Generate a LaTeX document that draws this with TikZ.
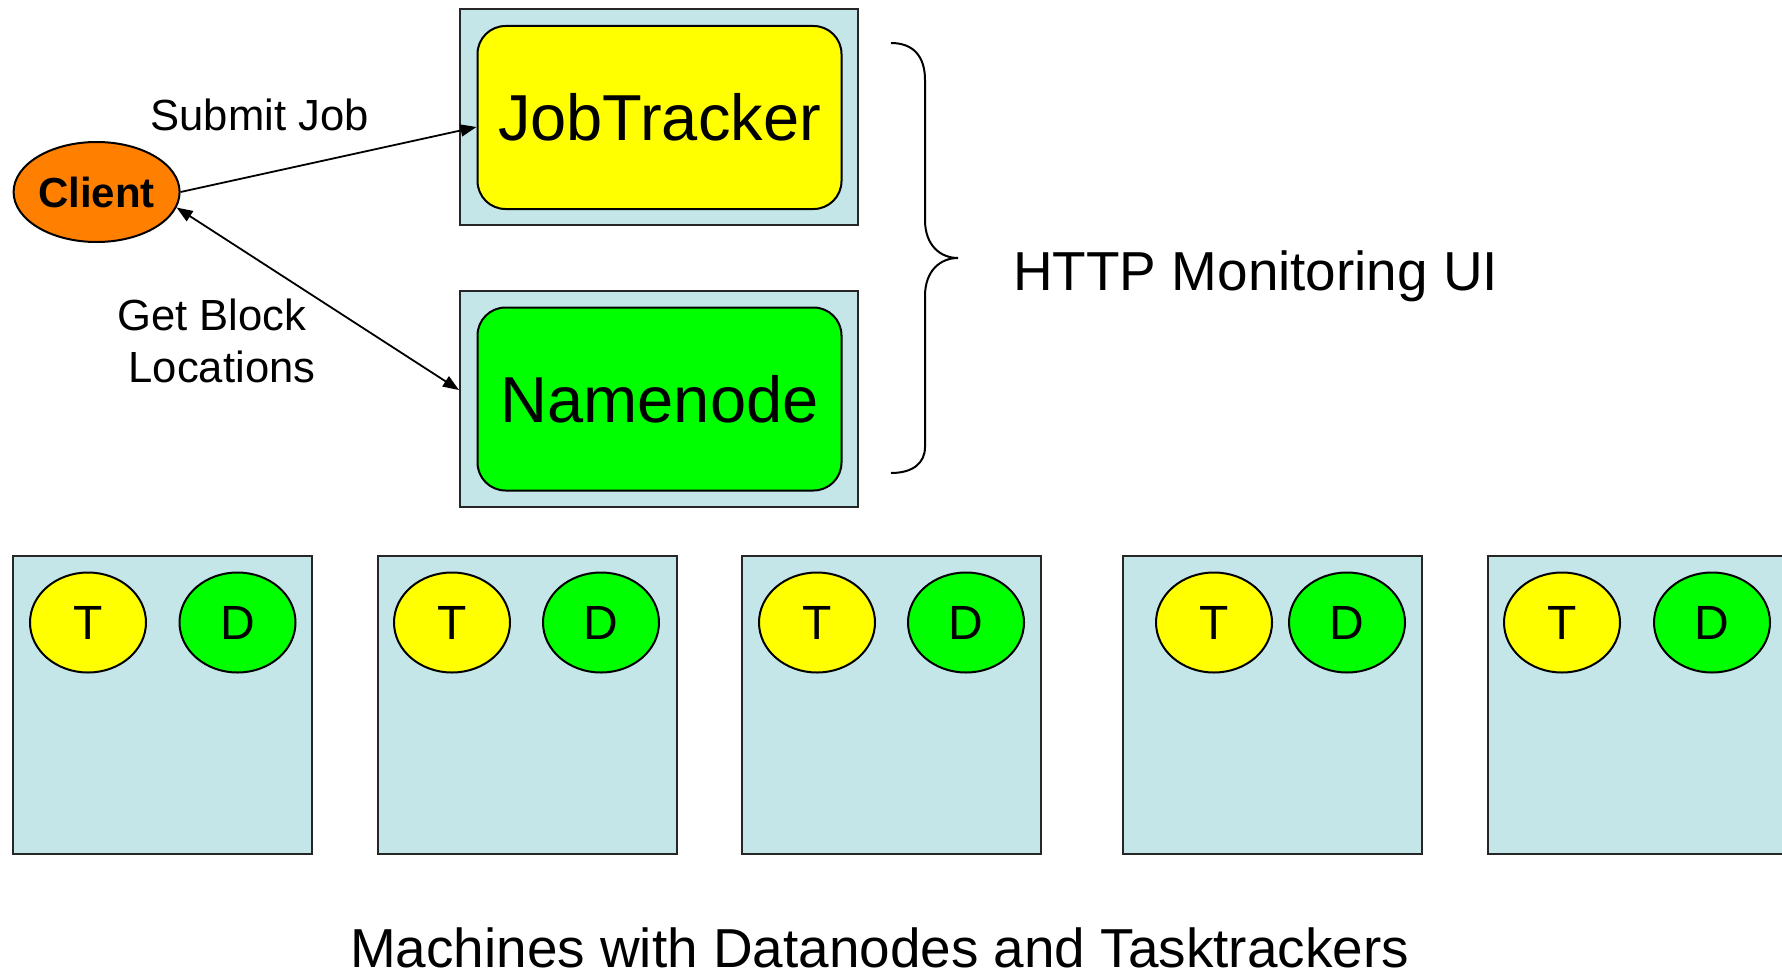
\documentclass[tikz,border=0pt]{standalone}
\usepackage{fontspec}
\setmainfont{Liberation Sans}
\usetikzlibrary{shapes.geometric,arrows.meta}
\definecolor{boxblue}{RGB}{196,230,232}
\definecolor{jtyellow}{RGB}{255,255,0}
\definecolor{nngreen}{RGB}{0,255,0}
\definecolor{clorange}{RGB}{255,128,0}
\begin{document}
\begin{tikzpicture}[x=1pt,y=-1pt,
  outerbox/.style={draw=black!85, line width=2pt, fill=boxblue, rectangle, inner sep=0pt},
  innerbox/.style={draw=black, line width=2pt, rounded corners=28pt, rectangle,
    minimum width=364pt, minimum height=183pt, inner sep=0pt, font=\fontsize{65}{78}\selectfont},
  machine/.style={outerbox, minimum width=299pt, minimum height=298pt},
  proc/.style={ellipse, draw=black, line width=2pt, inner sep=0pt,
    minimum width=116pt, minimum height=100pt, font=\fontsize{48}{58}\selectfont},
  tnode/.style={proc, fill=jtyellow},
  dnode/.style={proc, fill=nngreen},
  lbl/.style={font=\fontsize{43.6}{52}\selectfont, inner sep=0pt},
  big/.style={font=\fontsize{54.9}{66}\selectfont, inner sep=0pt},
  conn/.style={draw=black, line width=1.8pt},
  tip/.style={-{Triangle[length=16pt,width=12pt]}},
  dtip/.style={{Triangle[length=16pt,width=12pt]}-{Triangle[length=16pt,width=12pt]}}
]
\useasboundingbox (0,0) rectangle (1782,974);
\clip (0,0) rectangle (1782,974);

% top servers
\node[outerbox, minimum width=398pt, minimum height=216pt] (jtout) at (659,117) {};
\node[innerbox, fill=jtyellow] (jt) at (659.5,117.5) {JobTracker};
\node[outerbox, minimum width=398pt, minimum height=216pt] (nnout) at (659,399) {};
\node[innerbox, fill=nngreen] (nn) at (659.5,399) {Namenode};

% client
\node[ellipse, draw=black, line width=2pt, fill=clorange, inner sep=0pt,
  minimum width=166pt, minimum height=100pt,
  font=\fontsize{42}{50}\bfseries\selectfont] (client) at (96.6,192) {Client};

% connectors
\draw[conn, tip] (client.east) -- ([yshift=-9.5pt]jt.west);
\draw[conn, dtip] (client.-11) -- ([yshift=9pt]nnout.west);

% labels
\node[lbl, anchor=base] (submit) at (259.5,130) {Submit Job};
\node[lbl, anchor=base, align=center] (getblock) at (222,382) {Get Block\hspace*{20pt}\\Locations};

% brace
\draw[line width=2pt] (891,43) .. controls (913,43) and (925,56) .. (925,80)
  -- (925,220) .. controls (925,245) and (940,258) .. (958,258)
  .. controls (940,258) and (925,271) .. (925,296)
  -- (925,447) .. controls (925,463) and (913,473) .. (891,473);
\node[big, anchor=base west] (http) at (1013,290) {HTTP Monitoring UI};

% machines
\node[machine] (m1) at (162.5,705) {};
\node[machine] (m2) at (527,705) {};
\node[machine] (m3) at (891.5,705) {};
\node[machine] (m4) at (1272.5,705) {};
\node[machine] (m5) at (1637.5,705) {};

\node[tnode] (t1) at (88,622.5) {T};
\node[dnode] (d1) at (237.5,622.5) {D};
\node[tnode] (t2) at (452,622.5) {T};
\node[dnode] (d2) at (601,622.5) {D};
\node[tnode] (t3) at (817,622.5) {T};
\node[dnode] (d3) at (966,622.5) {D};
\node[tnode] (t4) at (1214,622.5) {T};
\node[dnode] (d4) at (1347,622.5) {D};
\node[tnode] (t5) at (1562,622.5) {T};
\node[dnode] (d5) at (1712,622.5) {D};

\node[big, anchor=base, text depth=0pt] (machines) at (879.5,967) {Machines with Datanodes and Tasktrackers};
\end{tikzpicture}
\end{document}
